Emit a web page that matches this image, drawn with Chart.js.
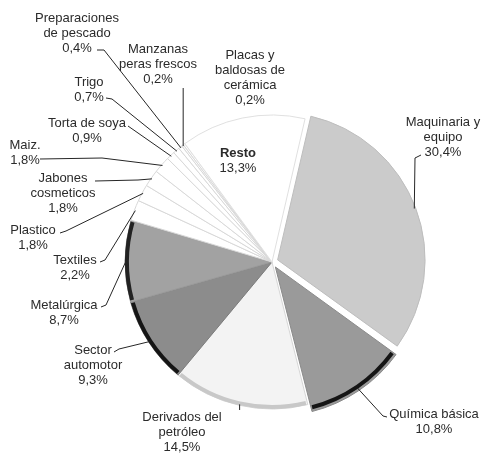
<!DOCTYPE html>
<html lang="es">
<head>
<meta charset="UTF-8" />
<title>Exportaciones por sector</title>
<style>
  html, body { margin: 0; padding: 0; background: #fff; }
  .chart-box { width: 484px; height: 459px; }
</style>
</head>
<body>
<div class="chart-box"><canvas id="pie"></canvas></div>

<script src="https://cdn.jsdelivr.net/npm/chart.js@4.4.1/dist/chart.umd.min.js"></script>
<script>
  // valores (%)
  const categories = [
    'Maquinaria y equipo', 'Química básica', 'Derivados del petróleo',
    'Sector automotor', 'Metalúrgica', 'Textiles', 'Plastico',
    'Jabones cosmeticos', 'Maiz.', 'Torta de soya', 'Trigo',
    'Preparaciones de pescado', 'Manzanas peras frescos',
    'Placas y baldosas de cerámica', 'Resto'
  ];
  const shares = [30.4, 10.8, 14.5, 9.3, 8.7, 2.2, 1.8, 1.8, 1.8, 0.9, 0.7, 0.4, 0.2, 0.2, 13.3];

  // estilos por porción
  const sliceColors = ['#cbcbcb', '#9a9a9a', '#f3f3f3', '#8c8c8c', '#a2a2a2', '#ffffff', '#ffffff',
    '#ffffff', '#ffffff', '#ffffff', '#ffffff', '#ffffff', '#ffffff', '#ffffff', '#ffffff'];
  const sliceBorders = ['#bdbdbd', '#8a8a8a', '#d6d6d6', '#7a7a7a', '#9a9a9a', '#d8d8d8', '#d8d8d8',
    '#d8d8d8', '#d8d8d8', '#d8d8d8', '#d8d8d8', '#d8d8d8', '#d8d8d8', '#d8d8d8', '#e0e0e0'];
  const sliceOffsets = [24, 24, 0, 0, 0, 0, 0, 0, 0, 0, 0, 0, 0, 0, 0];
  const rimShade = ['', '#151515', '#c8c8c8', '#151515', '#222222', '', '', '', '', '', '', '', '', '', ''];

  // rótulos: texto partido en líneas, centro x, y de la primera línea, quiebre de la guía
  const labelLayout = [
    { lines: ['Maquinaria y', 'equipo'], x: 443, y: 122, path: [[421, 155], [415, 158]] },
    { lines: ['Química básica'], x: 434, y: 414, path: [[387, 417], [383, 416]] },
    { lines: ['Derivados del', 'petróleo'], x: 182, y: 417, path: [[null, 410]] },
    { lines: ['Sector', 'automotor'], x: 93, y: 350, path: [[114, 352], [119, 349]] },
    { lines: ['Metalúrgica'], x: 64, y: 305, path: [[101, 307], [106, 305]] },
    { lines: ['Textiles'], x: 75, y: 260, path: [[100, 262], [105, 260]] },
    { lines: ['Plastico'], x: 33, y: 230, path: [[60, 233], [66, 231]] },
    { lines: ['Jabones', 'cosmeticos'], x: 63, y: 178, path: [[95, 181], [138, 180]] },
    { lines: ['Maiz.'], x: 25, y: 145, path: [[40, 159], [102, 158]] },
    { lines: ['Torta de soya'], x: 87, y: 123, path: [[128, 126]] },
    { lines: ['Trigo'], x: 89, y: 82, path: [[106, 98], [112, 99]] },
    { lines: ['Preparaciones', 'de pescado'], x: 77, y: 18, path: [[97, 50], [104, 50]] },
    { lines: ['Manzanas', 'peras frescos'], x: 158, y: 49, path: [[null, 88]] },
    { lines: ['Placas y', 'baldosas de', 'cerámica'], x: 250, y: 55, path: null },
    { lines: ['Resto'], x: 238, y: 153, path: null, bold: true }
  ];

  function pctText(v) {
    return v.toFixed(1).replace('.', ',') + '%';
  }

  function arcGeom(arc) {
    const p = arc.getProps(['x', 'y', 'startAngle', 'endAngle', 'outerRadius'], true);
    const mid = (p.startAngle + p.endAngle) / 2;
    const shift = (arc.options.offset || 0) / 4;
    return {
      cx: p.x + Math.cos(mid) * shift,
      cy: p.y + Math.sin(mid) * shift,
      r: p.outerRadius,
      start: p.startAngle,
      end: p.endAngle,
      mid: mid
    };
  }

  // borde oscuro que imita el canto del pastel en 3D
  const rimPlugin = {
    id: 'rim',
    afterDatasetsDraw(chart) {
      const ctx = chart.ctx;
      chart.getDatasetMeta(0).data.forEach((arc, i) => {
        if (!rimShade[i]) return;
        const g = arcGeom(arc);
        ctx.save();
        ctx.strokeStyle = rimShade[i];
        ctx.lineWidth = 4;
        ctx.beginPath();
        ctx.arc(g.cx, g.cy, g.r - 2, g.start + 0.01, g.end - 0.01);
        ctx.stroke();
        ctx.restore();
      });
    }
  };

  // rótulos con líneas guía hasta el borde de cada porción
  const labelPlugin = {
    id: 'labels',
    afterDraw(chart) {
      const ctx = chart.ctx;
      const arcs = chart.getDatasetMeta(0).data;
      ctx.save();
      ctx.fillStyle = '#2b2b2b';
      ctx.strokeStyle = '#262626';
      ctx.lineWidth = 1;
      ctx.textAlign = 'center';
      ctx.textBaseline = 'middle';
      labelLayout.forEach((lab, i) => {
        const lines = lab.lines.concat([pctText(shares[i])]);
        lines.forEach((t, k) => {
          const boldLine = lab.bold && k === 0;
          ctx.font = (boldLine ? 'bold ' : '') + '13px "Liberation Sans", Arial, sans-serif';
          ctx.fillText(t, lab.x, lab.y + k * 15);
        });
        if (!lab.path) return;
        const g = arcGeom(arcs[i]);
        const rx = g.cx + Math.cos(g.mid) * (g.r - 1);
        const ry = g.cy + Math.sin(g.mid) * (g.r - 1);
        ctx.beginPath();
        lab.path.forEach((pt, k) => {
          const px = pt[0] === null ? rx : pt[0];
          if (k === 0) ctx.moveTo(px, pt[1]); else ctx.lineTo(px, pt[1]);
        });
        ctx.lineTo(rx, ry);
        ctx.stroke();
      });
      ctx.restore();
    }
  };

  new Chart(document.getElementById('pie'), {
    type: 'pie',
    data: {
      labels: categories,
      datasets: [{
        data: shares,
        backgroundColor: sliceColors,
        borderColor: sliceBorders,
        borderWidth: 1,
        offset: sliceOffsets,
        radius: 147
      }]
    },
    options: {
      responsive: true,
      maintainAspectRatio: false,
      animation: false,
      rotation: 13,
      layout: { padding: { left: 122, right: 62, top: 112, bottom: 47 } },
      plugins: {
        legend: { display: false },
        tooltip: { enabled: false }
      }
    },
    plugins: [rimPlugin, labelPlugin]
  });
</script>
</body>
</html>
